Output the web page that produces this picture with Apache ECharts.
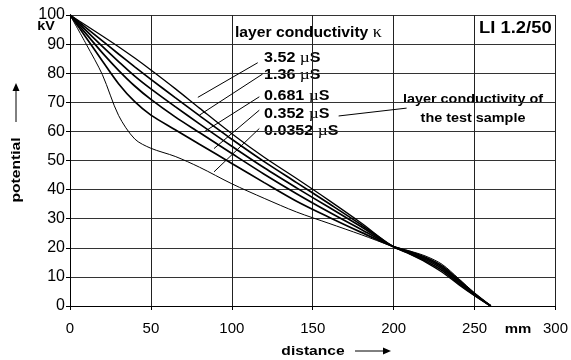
<!DOCTYPE html>
<html>
<head>
<meta charset="utf-8">
<script src="https://cdn.jsdelivr.net/npm/echarts@6/dist/echarts.min.js"></script>
<style>
  html, body { margin: 0; padding: 0; background: #fff; }
  #chart { width: 571px; height: 360px; }
</style>
</head>
<body>
<div id="chart"></div>
<script>
  // distance along the sample in mm
  const distance = [0, 10, 20, 30, 40, 50, 65, 80, 100, 120, 140, 160, 180, 199, 210, 220, 230, 240, 250, 260];
  // potential in kV for each layer conductivity
  const k3_52   = [100, 96.4, 92.8, 89.1, 85.2, 81.1, 74.7, 68.0, 59.2, 51.1, 43.8, 36.3, 28.5, 20.6, 17.8, 15.0, 11.6, 7.4, 3.5, 0];
  const k1_36   = [100, 95.6, 91.1, 86.6, 82.2, 77.9, 71.6, 65.4, 57.3, 49.6, 42.4, 35.2, 27.9, 20.6, 18.0, 15.4, 12.2, 7.8, 3.7, 0];
  const k0_681  = [100, 94.6, 89.2, 84.0, 79.0, 74.6, 68.5, 62.6, 54.9, 47.5, 40.6, 33.9, 27.2, 20.6, 18.2, 15.9, 12.8, 8.3, 3.9, 0];
  const k0_352  = [100, 93.5, 87.0, 81.0, 75.6, 71.0, 65.0, 59.6, 52.4, 45.3, 38.6, 32.3, 26.3, 20.6, 18.4, 16.3, 13.3, 8.7, 4.1, 0];
  const k0_0352 = [100, 92.2, 84.2, 76.4, 70.2, 65.6, 60.6, 55.6, 49.0, 42.4, 36.0, 30.5, 25.3, 20.6, 18.7, 16.7, 13.8, 9.1, 4.3, 0];
  const testSample = [100, 90.0, 79.5, 65.5, 57.4, 54.2, 51.4, 47.7, 42.0, 37.0, 32.3, 28.4, 24.5, 20.6, 18.9, 17.1, 14.3, 9.5, 4.5, 0];

  const curveNames = ['3.52 µS', '1.36 µS', '0.681 µS', '0.352 µS', '0.0352 µS', 'test sample'];
  const curves = [k3_52, k1_36, k0_681, k0_352, k0_0352, testSample];
  const widths = [1.3, 1.7, 1.7, 1.7, 1.7, 1];
  // pointer line from each label to its curve (data coordinates)
  const pointers = [
    [[116, 83.6], [79, 71.7]],
    [[119, 79.7], [80, 65.6]],
    [[117, 71.9], [83, 59.9]],
    [[117, 67.3], [89, 54.1]],
    [[117, 61.0], [89, 46.1]],
    [[208, 68.0], [166, 65.3]]
  ];

  const FONT = '"Liberation Sans", Arial, sans-serif';
  const SERIF = '"Liberation Serif", "DejaVu Serif", serif';

  const chart = echarts.init(document.getElementById('chart'));

  const series = curves.map((vals, i) => ({
    name: curveNames[i],
    type: 'line',
    data: distance.map((d, j) => [d, vals[j]]),
    showSymbol: false,
    smooth: 0.3,
    silent: true,
    lineStyle: { color: '#000', width: widths[i] },
    markLine: {
      silent: true,
      symbol: ['none', 'none'],
      label: { show: false },
      lineStyle: { color: '#000', width: 1, type: 'solid' },
      data: [[{ coord: pointers[i][0] }, { coord: pointers[i][1] }]]
    }
  }));

  // labels in the original are drawn a bit wider than normal, hence scaleX
  const muLabel = (num, y) => ({
    type: 'text',
    x: 264, y: y,
    scaleX: 1.15,
    style: {
      text: '{b|' + num + ' }{u|µ}{b|S}',
      verticalAlign: 'middle',
      rich: {
        b: { fontFamily: FONT, fontWeight: 'bold', fontSize: 14, fill: '#000' },
        u: { fontFamily: SERIF, fontSize: 15, fill: '#000' }
      }
    }
  });

  const boldText = (text, x, y, size, sx, extra) => Object.assign({
    type: 'text', x: x, y: y, scaleX: sx,
    style: { text: text, fontFamily: FONT, fontWeight: 'bold', fontSize: size, fill: '#000', align: 'center', verticalAlign: 'middle' }
  }, extra || {});

  const option = {
    animation: false,
    grid: { left: 70, right: 14, top: 15, bottom: 54 },
    xAxis: {
      type: 'value',
      min: 0, max: 300, interval: 50,
      axisLine: { lineStyle: { color: '#000', width: 1 } },
      axisTick: { length: 4, lineStyle: { color: '#000' } },
      axisLabel: { color: '#000', fontFamily: FONT, fontSize: 15, margin: 15 },
      splitLine: { show: true, lineStyle: { color: '#222', width: 1 } }
    },
    yAxis: {
      type: 'value',
      min: 0, max: 100, interval: 10,
      axisLine: { show: true, lineStyle: { color: '#000', width: 1 } },
      axisTick: { show: true, length: 4, lineStyle: { color: '#000' } },
      axisLabel: { color: '#000', fontFamily: FONT, fontSize: 16, margin: 5 },
      splitLine: { show: true, lineStyle: { color: '#333', width: 1 } }
    },
    series: series,
    graphic: [
      boldText('kV', 46, 26, 13, 1.1),
      boldText('mm', 518, 329, 13, 1.15),
      boldText('distance', 313, 351, 13, 1.2),
      { type: 'line', shape: { x1: 355, y1: 351, x2: 384, y2: 351 }, style: { stroke: '#000', lineWidth: 1 } },
      { type: 'polygon', shape: { points: [[383, 347.5], [391, 351], [383, 354.5]] }, style: { fill: '#000' } },
      boldText('potential', 16, 170, 13, 1.2, { rotation: Math.PI / 2 }),
      { type: 'line', shape: { x1: 16, y1: 122, x2: 16, y2: 90 }, style: { stroke: '#000', lineWidth: 1 } },
      { type: 'polygon', shape: { points: [[12.5, 91], [16, 83], [19.5, 91]] }, style: { fill: '#000' } },
      {
        type: 'text', x: 235, y: 33, scaleX: 1.12,
        style: {
          text: '{b|layer conductivity }{k|κ}',
          verticalAlign: 'middle',
          rich: {
            b: { fontFamily: FONT, fontWeight: 'bold', fontSize: 14, fill: '#000' },
            k: { fontFamily: SERIF, fontSize: 16, fill: '#000' }
          }
        }
      },
      { type: 'text', x: 479, y: 29, scaleX: 1.15, style: { text: 'LI 1.2/50', fontFamily: FONT, fontWeight: 'bold', fontSize: 16, fill: '#000', verticalAlign: 'middle' } },
      muLabel('3.52', 58),
      muLabel('1.36', 75),
      muLabel('0.681', 96),
      muLabel('0.352', 114),
      muLabel('0.0352', 131),
      boldText('layer conductivity of', 473, 100, 12, 1.2),
      boldText('the test sample', 473, 119, 12, 1.2)
    ]
  };

  chart.setOption(option);
  window.addEventListener('resize', function () {
    chart.resize();
  });
</script>
</body>
</html>
